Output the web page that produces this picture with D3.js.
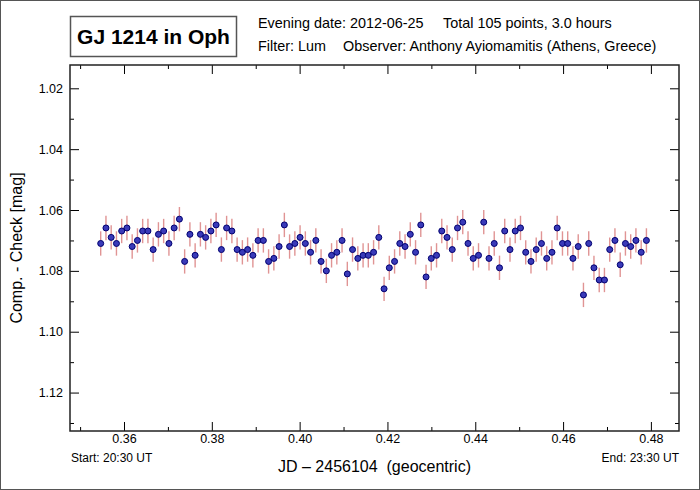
<!DOCTYPE html>
<html>
<head>
<meta charset="utf-8">
<script src="https://cdn.jsdelivr.net/npm/d3@7"></script>
<style>
html,body{margin:0;padding:0;background:#fff;}
svg{display:block;font-family:"Liberation Sans",Arial,sans-serif;}
</style>
</head>
<body>
<svg id="chart" width="700" height="490"></svg>
<script>
// ---- data ----
const times = [
0.35469,0.35589,0.35708,0.35828,0.35947,0.36067,0.36186,0.36306,0.36425,0.36545,
0.36664,0.36784,0.36903,0.37023,0.37142,0.37262,0.37381,0.37501,0.37620,0.37740,
0.37859,0.37979,0.38098,0.38218,0.38337,0.38457,0.38576,0.38696,0.38815,0.38935,
0.39054,0.39174,0.39293,0.39413,0.39532,0.39652,0.39771,0.39891,0.40010,0.40130,
0.40249,0.40369,0.40488,0.40608,0.40727,0.40847,0.40966,0.41086,0.41205,0.41325,
0.41445,0.41564,0.41684,0.41803,0.41923,0.42042,0.42162,0.42281,0.42401,0.42520,
0.42640,0.42759,0.42879,0.42998,0.43118,0.43237,0.43357,0.43476,0.43596,0.43715,
0.43835,0.43954,0.44074,0.44193,0.44313,0.44432,0.44552,0.44671,0.44791,0.44910,
0.45030,0.45149,0.45269,0.45388,0.45508,0.45627,0.45747,0.45866,0.45986,0.46105,
0.46225,0.46345,0.46464,0.46584,0.46703,0.46823,0.46942,0.47062,0.47181,0.47301,
0.47420,0.47540,0.47659,0.47779,0.47898];
const mags = [
1.0710,1.0659,1.0690,1.0710,1.0669,1.0659,1.0720,1.0700,1.0669,1.0669,
1.0730,1.0680,1.0669,1.0710,1.0659,1.0630,1.0769,1.0680,1.0749,1.0680,
1.0690,1.0669,1.0649,1.0730,1.0659,1.0669,1.0730,1.0739,1.0730,1.0749,
1.0700,1.0700,1.0769,1.0759,1.0720,1.0649,1.0720,1.0710,1.0690,1.0710,
1.0739,1.0700,1.0769,1.0800,1.0749,1.0739,1.0700,1.0810,1.0730,1.0759,
1.0749,1.0749,1.0739,1.0690,1.0859,1.0790,1.0769,1.0710,1.0720,1.0680,
1.0739,1.0649,1.0820,1.0759,1.0749,1.0669,1.0690,1.0730,1.0659,1.0640,
1.0710,1.0759,1.0749,1.0640,1.0759,1.0710,1.0790,1.0669,1.0730,1.0669,
1.0659,1.0739,1.0769,1.0730,1.0710,1.0759,1.0739,1.0659,1.0710,1.0710,
1.0759,1.0720,1.0879,1.0710,1.0790,1.0830,1.0830,1.0730,1.0700,1.0780,
1.0710,1.0720,1.0700,1.0739,1.0700];
const magError = 0.004;
const xMajorTicks = [0.36,0.38,0.40,0.42,0.44,0.46,0.48];
const xMinorTicks = [0.35,0.37,0.39,0.41,0.43,0.45,0.47];
const yMajorTicks = [1.02,1.04,1.06,1.08,1.10,1.12];
const yMinorTicks = [1.03,1.05,1.07,1.09,1.11,1.13];
const titleText = "GJ 1214 in Oph";
const infoLine1 = ["Evening date: 2012-06-25", "Total 105 points, 3.0 hours"];
const infoLine2 = ["Filter: Lum", "Observer: Anthony Ayiomamitis (Athens, Greece)"];
const xLabel = "JD \u2013 2456104  (geocentric)";
const yLabel = "Comp. - Check [mag]";
const startLabel = "Start: 20:30 UT";
const endLabel = "End: 23:30 UT";

// ---- layout ----
const svg = d3.select("#chart");
const L = 70, R = 679, T = 65, B = 431;
const x = d3.scaleLinear().domain([0.3477, 0.4864]).range([L, R]);
const y = d3.scaleLinear().domain([1.01234, 1.13263]).range([T, B]);

// outer border
svg.append("rect").attr("x",0.5).attr("y",0.5).attr("width",699).attr("height",489)
  .attr("fill","#fff").attr("stroke","#555").attr("stroke-width",1);

// title box
svg.append("rect").attr("x",70.5).attr("y",16.5).attr("width",166).attr("height",40)
  .attr("fill","#fff").attr("stroke","#555").attr("stroke-width",1.5);
svg.append("text").attr("x",153.5).attr("y",44).attr("text-anchor","middle")
  .attr("font-size",21).attr("font-weight","bold").attr("fill","#000").text(titleText);

// info
const info = svg.append("g").attr("font-size",14.4).attr("fill","#000");
info.append("text").attr("x",258).attr("y",28).text(infoLine1[0]);
info.append("text").attr("x",443).attr("y",28).text(infoLine1[1]);
info.append("text").attr("x",258).attr("y",51).text(infoLine2[0]);
info.append("text").attr("x",343).attr("y",51).text(infoLine2[1]);

// axes
function styleAxis(g){
  g.select(".domain").remove();
  g.selectAll(".tick line").attr("stroke","#000").attr("stroke-width",1);
  g.selectAll(".tick text").attr("font-size",12.5).attr("fill","#000")
   .attr("font-family","'Liberation Sans',Arial,sans-serif");
}
const fmt = d3.format(".2f");
svg.append("g").attr("transform",`translate(0,${B})`)
  .call(d3.axisBottom(x).tickValues(xMajorTicks).tickSize(-9).tickPadding(3).tickFormat(fmt))
  .call(styleAxis);
svg.append("g").attr("transform",`translate(0,${B})`)
  .call(d3.axisBottom(x).tickValues(xMinorTicks).tickSize(-4).tickFormat(""))
  .call(styleAxis);
svg.append("g").attr("transform",`translate(0,${T})`)
  .call(d3.axisTop(x).tickValues(xMajorTicks).tickSize(-9).tickFormat(""))
  .call(styleAxis);
svg.append("g").attr("transform",`translate(0,${T})`)
  .call(d3.axisTop(x).tickValues(xMinorTicks).tickSize(-4).tickFormat(""))
  .call(styleAxis);
svg.append("g").attr("transform",`translate(${L},0)`)
  .call(d3.axisLeft(y).tickValues(yMajorTicks).tickSize(-9).tickPadding(7).tickFormat(fmt))
  .call(styleAxis);
svg.append("g").attr("transform",`translate(${L},0)`)
  .call(d3.axisLeft(y).tickValues(yMinorTicks).tickSize(-4).tickFormat(""))
  .call(styleAxis);
svg.append("g").attr("transform",`translate(${R},0)`)
  .call(d3.axisRight(y).tickValues(yMajorTicks).tickSize(-9).tickFormat(""))
  .call(styleAxis);
svg.append("g").attr("transform",`translate(${R},0)`)
  .call(d3.axisRight(y).tickValues(yMinorTicks).tickSize(-4).tickFormat(""))
  .call(styleAxis);

// plot frame
svg.append("rect").attr("x",L).attr("y",T).attr("width",R-L).attr("height",B-T)
  .attr("fill","none").attr("stroke","#222").attr("stroke-width",1.5);

// data
const pts = times.map((t,i)=>({t, m: mags[i]}));
const gd = svg.append("g");
gd.selectAll("line.err").data(pts).join("line").attr("class","err")
  .attr("x1",d=>x(d.t)).attr("x2",d=>x(d.t))
  .attr("y1",d=>y(d.m-magError)).attr("y2",d=>y(d.m+magError))
  .attr("stroke","#e09494").attr("stroke-width",1.4);
gd.selectAll("circle").data(pts).join("circle")
  .attr("cx",d=>x(d.t)).attr("cy",d=>y(d.m)).attr("r",3)
  .attr("fill","#3a3ab8").attr("stroke","#000070").attr("stroke-width",1);

// labels
svg.append("text").attr("x",(L+R)/2).attr("y",472).attr("text-anchor","middle")
  .style("white-space","pre")
  .attr("font-size",16).attr("fill","#000").text(xLabel);
svg.append("text").attr("transform",`translate(22,${(T+B)/2}) rotate(-90)`)
  .attr("text-anchor","middle").attr("font-size",16).attr("fill","#000").text(yLabel);
svg.append("text").attr("x",L+1).attr("y",462).attr("font-size",12).attr("fill","#000").text(startLabel);
svg.append("text").attr("x",R).attr("y",462).attr("text-anchor","end").attr("font-size",12).attr("fill","#000").text(endLabel);
</script>
</body>
</html>
